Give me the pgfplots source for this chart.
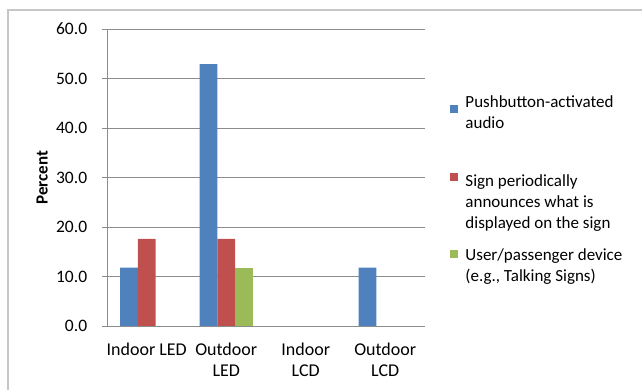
\documentclass[border=0pt]{standalone}
\usepackage{fontspec}
\setmainfont{Carlito}
\usepackage{pgfplots}
\pgfplotsset{compat=1.18}
\definecolor{cblue}{HTML}{4F81BD}
\definecolor{cred}{HTML}{C0504D}
\definecolor{cgreen}{HTML}{9BBB59}
\definecolor{cgrid}{HTML}{8C8C8C}
\begin{document}
\fontsize{17}{21}\selectfont
\begin{tikzpicture}
\path[use as bounding box] (0,0) rectangle (642pt,390pt);
\draw[color=black!22, line width=1.2pt] (8pt,-20pt) -- (8pt,380pt) -- (700pt,380pt);
\begin{axis}[
  at={(107pt,64pt)}, anchor=south west,
  scale only axis, width=318pt, height=297pt,
  ybar=0pt, bar width=17.75pt,
  xmin=-0.5, xmax=3.5, ymin=0, ymax=60,
  xtick={0,1,2,3},
  xticklabels={Indoor LED,{Outdoor\\LED},{Indoor\\LCD},{Outdoor\\LCD}},
  xticklabel style={align=center, font=\fontsize{18}{21}\selectfont, yshift=-6pt},
  major x tick style={draw=none},
  extra x ticks={-0.5,0.5,1.5,2.5,3.5},
  extra x tick labels={},
  extra x tick style={tick style={draw=cgrid, thin}, major tick length=5pt, tick align=outside, grid=none},
  ytick={0,10,...,60},
  yticklabel style={font=\fontsize{17.5}{21}\selectfont, xshift=-9pt},
  /pgf/number format/.cd, fixed, fixed zerofill, precision=1, assume math mode=true, /pgfplots/.cd,
  ymajorgrids, grid style={cgrid, line width=0.6pt},
  axis x line*=bottom, axis y line*=left,
  axis line style={cgrid, line width=0.6pt},
  y axis line style={-}, x axis line style={-},
  tick align=outside, major tick length=5pt,
  ytick style={cgrid, line width=0.6pt},
  ylabel={\textbf{Percent}},
  ylabel style={font=\fontsize{17}{21}\selectfont, at={(axis description cs:-0.168,0.5)}},
  legend cell align=left,
  legend style={draw=none, fill=none, at={(1.07,0.785)}, anchor=north west,
    font=\fontsize{17}{21}\selectfont, row sep=0pt,
    nodes={inner sep=1pt, align=left}},
]
\addplot[fill=cblue, draw=none,
  legend image code/.code={\fill[cblue] (0pt,1pt) rectangle (8pt,9pt); \path (14pt,5pt);}]
  coordinates {(0,11.8) (1,52.9) (3,11.8)};
\addlegendentry{Pushbutton-activated\\audio}
\addplot[fill=cred, draw=none,
  legend image code/.code={\fill[cred] (0pt,1pt) rectangle (8pt,9pt); \path (14pt,5pt);}]
  coordinates {(0,17.6) (1,17.6)};
\addlegendentry{\rule{0pt}{53pt}Sign periodically\\announces what is\\displayed on the sign}
\addplot[fill=cgreen, draw=none,
  legend image code/.code={\fill[cgreen] (0pt,1pt) rectangle (8pt,9pt); \path (14pt,5pt);}]
  coordinates {(1,11.8)};
\addlegendentry{\rule{0pt}{28pt}User/passenger device\\(e.g., Talking Signs)}
\end{axis}
\end{tikzpicture}
\end{document}
